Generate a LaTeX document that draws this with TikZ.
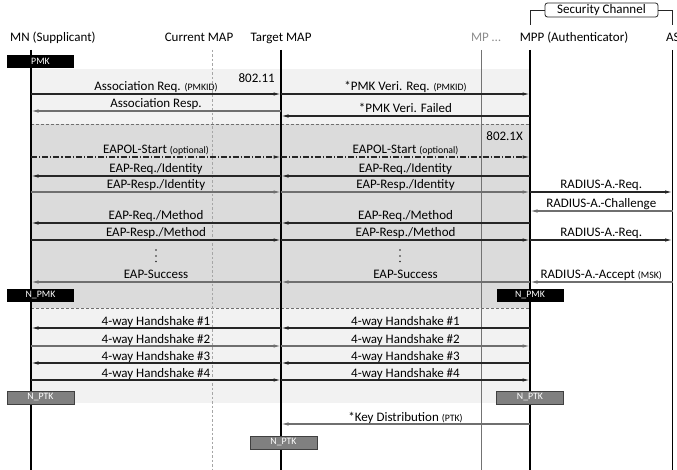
\documentclass[tikz,border=0pt]{standalone}
\usepackage{fontspec}
\setmainfont{Carlito}
\usetikzlibrary{arrows.meta}
\newcommand\smtxt[1]{{\fontsize{9.8}{10}\selectfont #1}}
\definecolor{dk}{HTML}{262626}
\definecolor{md}{HTML}{6F6F6F}
\definecolor{lgray}{HTML}{F2F2F2}
\definecolor{mgray}{HTML}{DBDBDB}
\begin{document}
\begin{tikzpicture}[x=1pt,y=-1pt,
  font=\fontsize{13}{15}\selectfont,
  life/.style={line width=1.1pt, black},
  msg/.style={line width=1.1pt, dk, -{Latex[length=7.5pt,width=3.4pt]}},
  msgg/.style={msg, md},
  lbl/.style={anchor=base, yshift=3pt, inner sep=0pt, text=black},
  hdr/.style={anchor=base, inner sep=0pt},
  keybox/.style={fill=black, text=white, minimum width=67pt, minimum height=13pt, inner sep=0pt, font=\fontsize{9.8}{10}\selectfont},
  ptkbox/.style={keybox, fill=black!50, draw=black!75, line width=0.8pt},
  sep/.style={md, line width=0.8pt, dash pattern=on 3pt off 2pt}]
\useasboundingbox (0,0) rectangle (677,470);
% background regions
\fill[lgray] (31,69) rectangle (530,124);
\fill[mgray] (31,124) rectangle (530,308);
\fill[lgray] (31,308) rectangle (530,403);
% lifeline coordinates
\coordinate (mnT) at (31,50);   \coordinate (mnB) at (31,470);
\coordinate (cmT) at (212,50);  \coordinate (cmB) at (212,470);
\coordinate (tmT) at (281,50);  \coordinate (tmB) at (281,470);
\coordinate (mpT) at (481,50);  \coordinate (mpB) at (481,470);
\coordinate (mppT) at (530,50); \coordinate (mppB) at (530,470);
\coordinate (asT) at (672.5,50); \coordinate (asB) at (672.5,470);
% separators
\coordinate (s1a) at (31,124); \coordinate (s1b) at (530,124);
\coordinate (s2a) at (31,308); \coordinate (s2b) at (530,308);
\draw[sep] (s1a) -- (s1b);
\draw[sep] (s2a) -- (s2b);
% lifelines
\draw[life] (mnT) -- (mnB);
\draw[line width=1pt, black!35, dash pattern=on 2.5pt off 2pt] (cmT) -- (cmB);
\draw[life] (tmT) -- (tmB);
\draw[line width=0.9pt, black!55] (mpT) -- (mpB);
\draw[life] (mppT) -- (mppB);
\draw[life] (asT) -- (asB);
% headers
\node[hdr, anchor=base west] (hmn) at (10,42) {MN (Supplicant)};
\node[hdr] (hcm) at (199,42) {Current MAP};
\node[hdr] (htm) at (281,42) {Target MAP};
\node[hdr, text=black!45] (hmp) at (486,42) {MP \ldots};
\node[hdr] (hmpp) at (574,42) {MPP (Authenticator)};
\node[hdr, anchor=base west] (has) at (666,42) {AS};
% security channel
\node[draw=dk, line width=0.8pt, rounded corners=2.5pt, fill=white, minimum width=113pt, minimum height=14pt, inner sep=0pt] (sc) at (601.5,10) {Security Channel};
\coordinate (scl) at (530,25); \coordinate (scr) at (672.5,25);
\draw[dk, line width=0.8pt] (scl) |- (sc.west);
\draw[dk, line width=0.8pt] (scr) |- (sc.east);
% row coordinates
\foreach \n/\y in {1/94,2/111,3/116,4/157,5/176,6/192,7/211,8/223,9/240,10/282,11/328,12/346,13/363,14/380,15/424}{
  \coordinate (mn\n) at (31,\y);
  \coordinate (tm\n) at (281,\y);
  \coordinate (pp\n) at (530,\y);
  \coordinate (as\n) at (672.5,\y);
}
% protocol labels
\node[anchor=base east, inner sep=0pt] (l80211) at (275,83) {802.11};
\node[anchor=base east, inner sep=0pt] (l8021x) at (523,141) {802.1X};
% key boxes
\node[keybox] (pmk) at (40.5,61.5) {PMK};
\node[keybox] (npmk1) at (40.5,295) {N\_PMK};
\node[keybox] (npmk2) at (530,295.5) {N\_PMK};
\node[ptkbox] (nptk1) at (40.5,397.5) {N\_PTK};
\node[ptkbox] (nptk2) at (530,397.5) {N\_PTK};
\node[ptkbox] (nptk3) at (283.5,442.5) {N\_PTK};
% 802.11
\draw[msg] (mn1) -- node[lbl]{Association Req. \smtxt{(PMKID)}} (tm1);
\draw[msg] (tm1) -- node[lbl]{*PMK Veri. Req. \smtxt{(PMKID)}} (pp1);
\draw[msgg] (tm2) -- node[lbl]{Association Resp.} (mn2);
\draw[msg] (pp3) -- node[lbl]{*PMK Veri. Failed} (tm3);
% 802.1X
\draw[msg, dash pattern=on 6pt off 2pt on 1.2pt off 2pt] (mn4) -- node[lbl]{EAPOL-Start \smtxt{(optional)}} (tm4);
\draw[msg, dash pattern=on 6pt off 2pt on 1.2pt off 2pt] (tm4) -- node[lbl]{EAPOL-Start \smtxt{(optional)}} (pp4);
\draw[msg] (tm5) -- node[lbl]{EAP-Req./Identity} (mn5);
\draw[msg] (pp5) -- node[lbl]{EAP-Req./Identity} (tm5);
\draw[msgg] (mn6) -- node[lbl]{EAP-Resp./Identity} (tm6);
\draw[msgg] (tm6) -- node[lbl]{EAP-Resp./Identity} (pp6);
\draw[msg] (pp6) -- node[lbl]{RADIUS-A.-Req.} (as6);
\draw[msgg] (as7) -- node[lbl]{RADIUS-A.-Challenge} (pp7);
\draw[msg] (tm8) -- node[lbl]{EAP-Req./Method} (mn8);
\draw[msg] (pp8) -- node[lbl]{EAP-Req./Method} (tm8);
\draw[msg] (mn9) -- node[lbl]{EAP-Resp./Method} (tm9);
\draw[msg] (tm9) -- node[lbl]{EAP-Resp./Method} (pp9);
\draw[msg] (pp9) -- node[lbl]{RADIUS-A.-Req.} (as9);
\foreach \x in {156,400}{
  \fill[dk] (\x,250) circle (0.9pt) (\x,256) circle (0.9pt) (\x,261.5) circle (0.9pt);
}
\draw[msgg] (tm10) -- node[lbl]{EAP-Success} (mn10);
\draw[msgg] (pp10) -- node[lbl]{EAP-Success} (tm10);
\draw[msgg] (as10) -- node[lbl]{RADIUS-A.-Accept \smtxt{(MSK)}} (pp10);
% 4-way handshake
\draw[msg] (tm11) -- node[lbl]{4-way Handshake \#1} (mn11);
\draw[msg] (pp11) -- node[lbl]{4-way Handshake \#1} (tm11);
\draw[msgg] (mn12) -- node[lbl]{4-way Handshake \#2} (tm12);
\draw[msgg] (tm12) -- node[lbl]{4-way Handshake \#2} (pp12);
\draw[msg] (tm13) -- node[lbl]{4-way Handshake \#3} (mn13);
\draw[msg] (pp13) -- node[lbl]{4-way Handshake \#3} (tm13);
\draw[msg] (mn14) -- node[lbl]{4-way Handshake \#4} (tm14);
\draw[msg] (tm14) -- node[lbl]{4-way Handshake \#4} (pp14);
% key distribution
\draw[msgg] (pp15) -- node[lbl]{*Key Distribution \smtxt{(PTK)}} (tm15);
\end{tikzpicture}
\end{document}
